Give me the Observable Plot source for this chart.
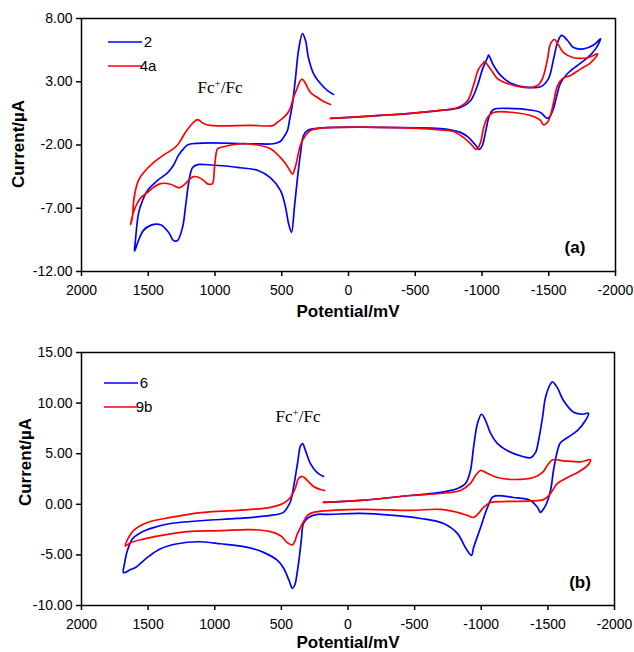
<!DOCTYPE html>
<html><head><meta charset="utf-8">
<script src="https://cdn.jsdelivr.net/npm/d3@7"></script>
<script src="https://cdn.jsdelivr.net/npm/@observablehq/plot@0.6"></script>
<style>
body{margin:0;background:#fff;}
#chart{position:relative;width:634px;height:652px;font-family:Arial,"Liberation Sans",sans-serif;}
#chart svg{display:block;overflow:visible;}
</style></head><body><div id="chart"></div>
<script>
// ---- axis ticks ----
const potentialTicks = [2000, 1500, 1000, 500, 0, -500, -1000, -1500, -2000];
const currentTicksA = [8, 3, -2, -7, -12];
const currentTicksB = [15, 10, 5, 0, -5, -10];
const labelsA = ["2", "4a"];
const labelsB = ["6", "9b"];
const panelTags = ["(a)", "(b)"];
const xLabel = "Potential/mV";
const yLabel = "Current/\u00b5A";

// ---- panel (a), compound 2 : [potential mV, current uA] in scan order ----
const curveA2 = [[135,0.1],[-465,0.5],[-689,0.73],[-839,0.96],[-914,1.5],[-966,2.7],[-1004,4.0],[-1041,4.9],[-1049,5.1],[-1086,4.3],[-1139,3.5],[-1214,2.9],[-1311,2.6],[-1438,2.6],[-1498,3.25],[-1536,4.8],[-1566,6.1],[-1596,6.66],[-1641,6.26],[-1686,5.7],[-1761,5.6],[-1836,5.9],[-1888,6.4],
[-1851,5.6],[-1791,4.9],[-1716,4.3],[-1641,3.65],[-1588,2.9],[-1566,2.15],[-1536,0.9],[-1513,0.33],[-1491,0.1],[-1438,0.57],[-1386,0.73],[-1191,0.9],[-1086,0.8],[-1056,0.33],[-1026,-1.0],[-1004,-2.0],[-981,-2.35],[-951,-2.0],[-899,-1.4],[-839,-1.0],[-764,-0.8],[-689,-0.7],[-217,-0.6],[200,-0.65],[307,-0.85],[337,-1.25],[360,-2.7],[382,-4.6],[405,-6.9],[427,-8.9],[449,-8.2],[472,-6.9],[509,-5.6],[584,-4.6],[682,-4.0],[809,-3.8],[884,-3.7],[1011,-3.6],[1131,-3.55],[1169,-3.8],[1198,-5.05],[1221,-6.9],[1243,-8.5],[1281,-9.55],[1311,-9.55],[1348,-8.9],[1408,-8.3],[1483,-8.35],[1536,-8.75],[1573,-9.55],[1603,-10.4],
[1596,-9.55],[1573,-7.4],[1543,-6.4],[1506,-5.6],[1431,-4.8],[1356,-4.2],[1311,-3.6],[1273,-2.8],[1236,-2.3],[1198,-1.96],[734,-1.9],[562,-1.9],[509,-1.7],[487,-1.4],[457,-0.85],[442,-0.06],[419,1.3],[397,3.3],[374,5.5],[345,6.8],[322,6.26],[300,4.9],[262,3.65],[210,2.86],[157,2.3],[112,2.0]];

// ---- panel (a), compound 4a ----
const curveA4a = [[135,0.1],[-465,0.5],[-689,0.73],[-817,0.96],[-891,1.5],[-936,2.7],[-974,4.0],[-1011,4.5],[-1019,4.6],[-1064,4.0],[-1116,3.25],[-1191,2.86],[-1311,2.55],[-1416,2.7],[-1453,3.25],[-1491,4.8],[-1513,6.0],[-1543,6.34],[-1573,5.9],[-1611,5.3],[-1686,4.9],[-1791,4.9],[-1866,5.2],
[-1813,4.5],[-1738,4.0],[-1663,3.5],[-1603,3.25],[-1566,2.7],[-1536,1.36],[-1513,0.33],[-1491,-0.2],[-1461,-0.4],[-1438,-0.06],[-1386,0.25],[-1236,0.57],[-1086,0.57],[-1041,0.17],[-1011,-0.7],[-989,-1.8],[-959,-2.35],[-914,-1.9],[-861,-1.4],[-786,-0.93],[-689,-0.8],[-240,-0.6],[232,-0.7],[285,-0.85],[322,-1.25],[360,-2.0],[382,-3.0],[400,-3.8],[419,-4.3],[440,-4.0],[470,-3.5],[509,-3.0],[584,-2.3],[682,-2.0],[809,-1.9],[959,-2.2],[981,-2.3],[1004,-3.8],[1019,-5.05],[1049,-5.1],[1086,-4.8],[1124,-4.55],[1161,-4.5],[1184,-4.65],[1221,-5.05],[1258,-5.35],[1281,-5.35],[1333,-5.1],[1408,-5.05],[1461,-5.35],[1506,-5.75],[1558,-6.2],[1596,-6.9],[1618,-7.6],[1633,-8.3],
[1618,-7.7],[1611,-6.6],[1596,-5.6],[1573,-4.8],[1536,-4.2],[1461,-3.4],[1386,-2.8],[1318,-2.35],[1281,-2.0],[1258,-1.65],[1221,-1.0],[1169,-0.3],[1131,0.0],[1086,-0.3],[1034,-0.45],[734,-0.45],[562,-0.45],[532,-0.2],[494,0.1],[457,0.5],[434,0.96],[412,1.75],[382,2.55],[360,3.1],[345,3.2],[322,2.86],[285,2.15],[232,1.75],[187,1.44],[135,1.2]];

// ---- panel (b), compound 6 ----
const curveB6 = [[184,0.2],[-94,0.38],[-469,0.87],[-694,1.17],[-822,1.56],[-882,2.06],[-919,3.34],[-942,5.6],[-972,8.0],[-1002,8.9],[-1032,8.3],[-1070,7.0],[-1122,6.0],[-1197,5.3],[-1317,4.7],[-1370,4.6],[-1407,5.1],[-1430,6.3],[-1460,8.6],[-1482,10.55],[-1520,11.9],[-1535,12.1],[-1572,11.5],[-1617,10.25],[-1693,9.1],[-1760,8.9],[-1805,9.0],
[-1783,8.3],[-1723,7.3],[-1648,6.6],[-1595,6.1],[-1572,5.3],[-1542,3.34],[-1520,1.36],[-1490,0.08],[-1460,-0.6],[-1445,-0.8],[-1422,-0.3],[-1370,0.38],[-1242,0.67],[-1092,0.77],[-1047,-0.3],[-995,-2.3],[-942,-4.3],[-927,-5.05],[-882,-4.3],[-822,-2.9],[-717,-1.9],[-544,-1.4],[-342,-1.1],[-94,-0.9],[154,-1.0],[229,-1.0],[296,-1.3],[334,-1.9],[350,-3.5],[365,-5.2],[382,-6.8],[400,-8.0],[418,-8.3],[440,-7.6],[484,-6.3],[529,-5.55],[634,-4.75],[754,-4.25],[957,-3.9],[1129,-3.7],[1280,-3.9],[1407,-4.4],[1505,-5.25],[1595,-6.25],[1632,-6.45],[1685,-6.75],
[1677,-5.85],[1655,-4.55],[1617,-3.4],[1557,-2.8],[1460,-2.3],[1332,-1.9],[1084,-1.6],[829,-1.4],[582,-1.1],[484,-0.8],[446,-0.1],[431,0.3],[409,1.66],[379,4.03],[356,5.8],[341,6.0],[319,5.3],[281,4.0],[229,3.1],[184,2.75]];

// ---- panel (b), compound 9b ----
const curveB9b = [[184,0.2],[-94,0.38],[-469,0.87],[-694,1.07],[-844,1.36],[-919,2.06],[-957,2.85],[-995,3.34],[-1047,3.05],[-1122,2.65],[-1242,2.45],[-1392,2.65],[-1460,3.15],[-1497,3.85],[-1535,4.4],[-1617,4.3],[-1745,4.2],[-1820,4.4],
[-1798,3.85],[-1723,3.15],[-1648,2.65],[-1572,2.06],[-1520,1.07],[-1482,0.57],[-1445,0.38],[-1197,0.28],[-1070,0.18],[-1017,-0.3],[-980,-0.9],[-942,-1.3],[-897,-1.1],[-822,-0.8],[-694,-0.5],[-469,-0.6],[-94,-0.5],[259,-0.8],[304,-1.1],[341,-1.9],[379,-2.9],[416,-4.0],[454,-3.8],[506,-3.1],[582,-2.7],[732,-2.5],[957,-2.6],[1205,-2.7],[1407,-3.1],[1557,-3.5],[1632,-3.8],[1670,-4.1],
[1647,-3.3],[1610,-2.6],[1505,-1.8],[1332,-1.3],[1084,-0.8],[829,-0.6],[582,-0.3],[484,0.1],[431,0.7],[394,1.66],[371,2.55],[341,2.75],[304,2.35],[259,1.76],[206,1.46],[176,1.36]];

const BLUE = "#0000ff", RED = "#ff0000";
const FONT = "Arial, 'Liberation Sans', sans-serif";

function panel(cfg) {
  const svg = Plot.plot({
    width: 634, height: cfg.height,
    marginLeft: 81, marginRight: cfg.mr, marginTop: cfg.mt, marginBottom: cfg.mb,
    x: {domain: [2000, -2000]},
    y: {domain: cfg.ydomain},
    style: {fontFamily: FONT, fontSize: "14px", color: "#000", background: "#fff"},
    marks: [
      Plot.line(cfg.blue, {x: d => d[0], y: d => d[1], stroke: BLUE, strokeWidth: 1.7, curve: "catmull-rom"}),
      Plot.line(cfg.red, {x: d => d[0], y: d => d[1], stroke: RED, strokeWidth: 1.7, curve: "catmull-rom"}),
      Plot.frame({stroke: "#000", strokeWidth: 1.5}),
      Plot.axisX({ticks: potentialTicks, tickFormat: d => String(d), tickSize: 5, tickPadding: 9, label: null, strokeWidth: 1.5}),
      Plot.axisY({ticks: cfg.yticks, tickFormat: d => d.toFixed(2), tickSize: 5, tickPadding: 4, label: null, strokeWidth: 1.5})
    ]
  });
  const s = d3.select(svg);
  const g = s.append("g").attr("font-family", FONT);
  // axis titles
  g.append("text").attr("x", 348).attr("y", cfg.xlabY).attr("text-anchor", "middle")
    .attr("font-weight", "bold").attr("font-size", 17).text(xLabel);
  g.append("text").attr("transform", `translate(${cfg.ylabX},${cfg.ylabY}) rotate(-90)`).attr("text-anchor", "middle")
    .attr("font-weight", "bold").attr("font-size", 17).text(yLabel);
  // legend
  [[BLUE, cfg.labels[0], cfg.legY[0]], [RED, cfg.labels[1], cfg.legY[1]]].forEach(([c, t, y]) => {
    g.append("line").attr("x1", cfg.legX[0]).attr("x2", cfg.legX[1]).attr("y1", y).attr("y2", y)
      .attr("stroke", c).attr("stroke-width", 1.7);
    g.append("text").attr("x", cfg.legX[1] + 6).attr("y", y + 5).attr("font-size", 15).text(t);
  });
  // Fc+/Fc annotation
  const fc = g.append("text").attr("x", cfg.fc[0]).attr("y", cfg.fc[1])
    .attr("font-family", "'Liberation Serif', 'Times New Roman', serif").attr("font-size", 17);
  fc.append("tspan").text("Fc");
  fc.append("tspan").attr("dy", -6).attr("font-size", 11).text("+");
  fc.append("tspan").attr("dy", 6).text("/Fc");
  // panel tag
  g.append("text").attr("x", cfg.tag[0]).attr("y", cfg.tag[1]).attr("font-weight", "bold")
    .attr("font-size", 17).text(cfg.tagText);
  return svg;
}

const root = document.getElementById("chart");
root.appendChild(panel({
  height: 322, mr: 19, mt: 18, mb: 51, ydomain: [-12, 8], yticks: currentTicksA,
  xlabY: 317, ylabX: 24, ylabY: 144,
  blue: curveA2, red: curveA4a, labels: labelsA, legX: [108, 142], legY: [42, 66],
  fc: [220, 93], tag: [575, 253], tagText: panelTags[0]
}));
root.appendChild(panel({
  height: 330, mr: 20, mt: 30, mb: 47, ydomain: [-10, 15], yticks: currentTicksB,
  xlabY: 326, ylabX: 31, ylabY: 140,
  blue: curveB6, red: curveB9b, labels: labelsB, legX: [104, 138], legY: [61, 85],
  fc: [298, 100], tag: [580, 266], tagText: panelTags[1]
}));
</script></body></html>
